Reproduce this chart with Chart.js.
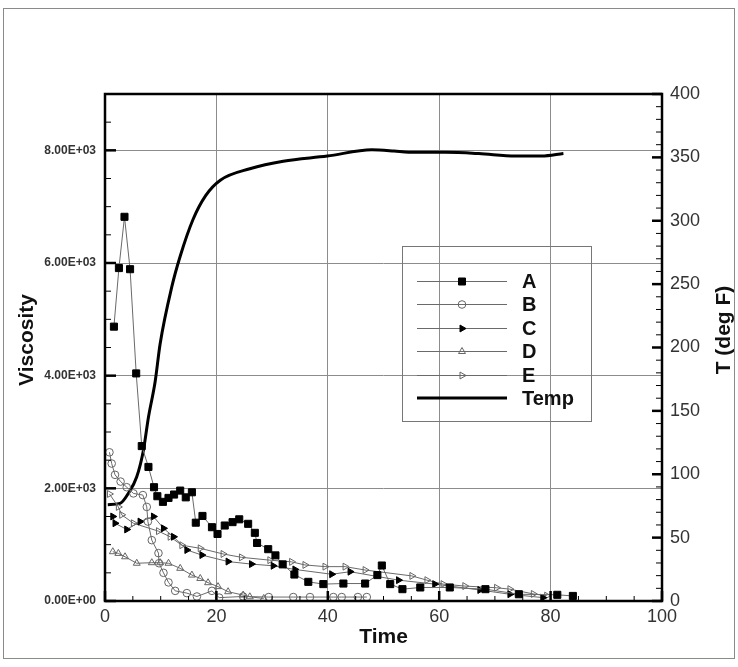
<!DOCTYPE html>
<html>
<head>
<meta charset="utf-8">
<script src="https://cdn.jsdelivr.net/npm/chart.js@4/dist/chart.umd.min.js"></script>
<style>
  html, body { margin: 0; padding: 0; background: #fff; }
  canvas { display: block; }
</style>
</head>
<body>
<canvas id="c" width="738" height="667"></canvas>
<script>
// ---------- data ----------
const seriesNames = ['A', 'B', 'C', 'D', 'E', 'Temp'];

const timeA = [1.6,2.5,3.5,4.5,5.6,6.6,7.8,8.8,9.4,10.4,11.4,12.4,13.5,14.5,15.6,16.3,17.5,19.2,20.2,21.5,22.9,24.1,25.7,26.9,27.3,29.3,30.6,31.9,34.0,36.5,39.2,42.8,46.7,48.9,49.7,51.2,53.4,56.6,61.9,68.3,74.3,81.2,84.0];
const viscA = [4870,5910,6820,5890,4040,2750,2380,2020,1860,1760,1830,1890,1960,1840,1930,1390,1510,1310,1190,1340,1400,1450,1370,1210,1030,920,810,650,470,340,300,310,310,460,630,300,210,240,240,210,120,110,90];

const timeB = [0.8,1.2,1.8,2.8,3.9,5.1,6.8,7.5,7.7,8.4,9.6,9.7,10.5,11.4,12.6,14.7,16.5,19.2,20.5,24.8,29.4,33.8,36.8,41.0,42.5,45.4,47.0];
const viscB = [2640,2440,2240,2120,2020,1910,1880,1670,1410,1080,850,670,500,330,180,140,80,180,60,80,70,70,70,70,70,70,70];

const timeC = [1.4,1.8,3.9,6.3,8.7,10.5,12.3,14.7,17.4,22.1,26.3,30.2,34.1,40.7,44.0,52.7,59.2,67.3,72.7,78.6];
const viscC = [1500,1380,1270,1410,1500,1290,1140,905,815,700,655,625,560,475,520,370,300,195,120,60];

const timeD = [1.4,2.4,3.6,5.7,8.4,9.9,11.4,13.5,15.6,17.1,18.5,20.3,22.1,24.8,26.0,28.5];
const viscD = [875,845,785,670,680,680,670,580,460,400,325,255,165,105,75,45];

const timeE = [0.8,2.4,3.0,5.1,9.6,11.7,13.8,17.1,21.2,24.5,29.6,33.5,35.9,39.5,43.1,46.7,55.1,57.8,60.7,64.6,70.3,72.7,76.9,79.3];
const viscE = [1900,1670,1530,1380,1240,1140,990,935,835,775,725,695,640,610,610,550,445,370,300,265,235,210,125,95];

const timeT = [0.5,2.7,4.2,5.7,6.9,7.8,9.0,9.9,12.0,13.5,15.8,18.1,20.7,26.0,32.0,39.9,47.9,51.9,54.5,61.1,67.1,73.7,78.4,82.3];
const tempT = [76,77,85,98,119,145,173,203,248,272,301,320,332,341,347,351,356,355,354,354,353,351,351,353];

const xTicks = [0,20,40,60,80,100];
const viscTicks = [0,2000,4000,6000,8000];
const tempTicks = [0,50,100,150,200,250,300,350,400];

// ---------- helpers ----------
const FONT = "'Liberation Sans', Arial, sans-serif";
function pts(xs, ys) { return xs.map((x, i) => ({ x: x, y: ys[i] })); }
function sci(v) {
  if (v === 0) return '0.00E+00';
  const e = Math.floor(Math.log10(Math.abs(v)));
  const m = (v / Math.pow(10, e)).toFixed(2);
  return m + 'E' + (e >= 0 ? '+' : '-') + String(Math.abs(e)).padStart(2, '0');
}

const LINE = '#6a6a6a';
const markerDefs = [
  { style: 'rect',     rot: 0,  r: 5,   fill: '#000', stroke: '#000' },
  { style: 'circle',   rot: 0,  r: 3.8, fill: 'rgba(255,255,255,0)', stroke: '#666' },
  { style: 'triangle', rot: 90, r: 4,   fill: '#000', stroke: '#000' },
  { style: 'triangle', rot: 0,  r: 4,   fill: 'rgba(255,255,255,0)', stroke: '#666' },
  { style: 'triangle', rot: 90, r: 4,   fill: 'rgba(255,255,255,0)', stroke: '#666' }
];
const seriesData = [pts(timeA, viscA), pts(timeB, viscB), pts(timeC, viscC), pts(timeD, viscD), pts(timeE, viscE)];

const datasets = seriesData.map((d, i) => ({
  label: seriesNames[i],
  data: d,
  yAxisID: 'y',
  showLine: true,
  borderColor: LINE,
  borderWidth: 1,
  pointStyle: markerDefs[i].style,
  rotation: markerDefs[i].rot,
  pointRadius: markerDefs[i].r,
  pointBackgroundColor: markerDefs[i].fill,
  pointBorderColor: markerDefs[i].stroke,
  pointBorderWidth: 1,
  tension: 0
}));
datasets.push({
  label: 'Temp',
  data: pts(timeT, tempT),
  yAxisID: 'y2',
  showLine: true,
  borderColor: '#000',
  borderWidth: 3,
  pointRadius: 0,
  cubicInterpolationMode: 'monotone'
});

// ---------- custom drawing: frame, inward ticks, titles, legend ----------
function drawMarker(ctx, def, x, y) {
  ctx.save();
  ctx.lineWidth = 1;
  ctx.fillStyle = def.fill;
  ctx.strokeStyle = def.stroke;
  ctx.beginPath();
  if (def.style === 'rect') {
    ctx.rect(x - 3.5, y - 3.5, 7, 7);
  } else if (def.style === 'circle') {
    ctx.arc(x, y, def.r, 0, Math.PI * 2);
  } else {
    const r = def.r;
    const a0 = (def.rot - 90) * Math.PI / 180;
    for (let k = 0; k < 3; k++) {
      const a = a0 + k * 2 * Math.PI / 3;
      const px = x + r * Math.cos(a), py = y + r * Math.sin(a);
      if (k === 0) ctx.moveTo(px, py); else ctx.lineTo(px, py);
    }
    ctx.closePath();
  }
  ctx.fill();
  ctx.stroke();
  ctx.restore();
}

const decor = {
  id: 'decor',
  beforeDraw(chart) {
    const ctx = chart.ctx;
    ctx.save();
    ctx.fillStyle = '#fff';
    ctx.fillRect(0, 0, chart.width, chart.height);
    ctx.restore();
  },
  afterDraw(chart) {
    const ctx = chart.ctx;
    const a = chart.chartArea;
    const sx = chart.scales.x, sy = chart.scales.y, sy2 = chart.scales.y2;
    ctx.save();

    // outer border
    ctx.strokeStyle = '#8a8a8a';
    ctx.lineWidth = 1;
    ctx.strokeRect(3.5, 8.5, 731, 650);

    // inward ticks
    ctx.strokeStyle = '#000';
    function tick(x1, y1, x2, y2, w) {
      ctx.lineWidth = w; ctx.beginPath(); ctx.moveTo(x1, y1); ctx.lineTo(x2, y2); ctx.stroke();
    }
    for (let v = 0; v <= 100; v += 5) {
      const px = sx.getPixelForValue(v);
      const major = v % 20 === 0;
      tick(px, a.bottom, px, a.bottom - (major ? 10 : 5), major ? 2.5 : 1);
    }
    for (let v = 0; v <= 9000; v += 500) {
      const py = sy.getPixelForValue(v);
      const major = v % 2000 === 0;
      tick(a.left, py, a.left + (major ? 11 : 6), py, major ? 2.5 : 1);
    }
    for (let v = 0; v <= 400; v += 10) {
      const py = sy2.getPixelForValue(v);
      const major = v % 50 === 0;
      tick(a.right, py, a.right - (major ? 10 : 6), py, major ? 2.5 : 1);
    }

    // frame
    ctx.lineWidth = 2.5;
    ctx.strokeStyle = '#000';
    ctx.strokeRect(a.left, a.top, a.right - a.left, a.bottom - a.top);

    // axis titles
    ctx.fillStyle = '#111';
    ctx.font = 'bold 21px ' + FONT;
    ctx.textAlign = 'center';
    ctx.textBaseline = 'middle';
    ctx.fillText('Time', (a.left + a.right) / 2, 637);
    ctx.save();
    ctx.translate(27, 340);
    ctx.rotate(-Math.PI / 2);
    ctx.fillText('Viscosity', 0, 0);
    ctx.restore();
    ctx.save();
    ctx.translate(724, 330);
    ctx.rotate(-Math.PI / 2);
    ctx.fillText('T (deg F)', 0, 0);
    ctx.restore();

    // legend
    ctx.strokeStyle = '#777';
    ctx.lineWidth = 1;
    ctx.strokeRect(402.5, 246.5, 189, 175);
    const rows = [281, 304, 328, 351, 375, 398];
    ctx.font = 'bold 20px ' + FONT;
    ctx.textAlign = 'left';
    ctx.textBaseline = 'middle';
    rows.forEach((ry, i) => {
      ctx.beginPath();
      if (i < 5) {
        ctx.strokeStyle = LINE; ctx.lineWidth = 1;
        ctx.moveTo(417, ry + 0.5); ctx.lineTo(507, ry + 0.5);
        ctx.stroke();
        drawMarker(ctx, markerDefs[i], 462, ry + 0.5);
      } else {
        ctx.strokeStyle = '#000'; ctx.lineWidth = 3;
        ctx.moveTo(417, ry); ctx.lineTo(507, ry);
        ctx.stroke();
      }
      ctx.fillStyle = '#111';
      ctx.fillText(seriesNames[i], 522, ry + 1);
    });
    ctx.restore();
  }
};

new Chart(document.getElementById('c'), {
  type: 'scatter',
  data: { datasets: datasets },
  plugins: [decor],
  options: {
    responsive: false,
    animation: false,
    events: [],
    layout: { padding: { top: 94, right: 0, bottom: 0, left: 0 } },
    plugins: { legend: { display: false }, tooltip: { enabled: false }, title: { display: false } },
    scales: {
      x: {
        type: 'linear', min: 0, max: 100,
        afterBuildTicks(s) { s.ticks = xTicks.map(v => ({ value: v })); },
        ticks: { color: '#333', font: { family: FONT, size: 18 }, padding: 5, maxRotation: 0 },
        grid: { color: '#8c8c8c', lineWidth: 1, drawTicks: false },
        border: { display: false },
        afterFit(s) { s.height = 66; }
      },
      y: {
        type: 'linear', position: 'left', min: 0, max: 9000,
        afterBuildTicks(s) { s.ticks = viscTicks.map(v => ({ value: v })); },
        ticks: { color: '#333', font: { family: FONT, size: 12, weight: 'bold' }, padding: 9, callback: v => sci(v) },
        grid: { color: '#8c8c8c', lineWidth: 1, drawTicks: false },
        border: { display: false },
        afterFit(s) { s.width = 105; }
      },
      y2: {
        type: 'linear', position: 'right', min: 0, max: 400,
        afterBuildTicks(s) { s.ticks = tempTicks.map(v => ({ value: v })); },
        ticks: { color: '#333', font: { family: FONT, size: 18 }, padding: 8 },
        grid: { display: false, drawTicks: false },
        border: { display: false },
        afterFit(s) { s.width = 76; }
      }
    }
  }
});
</script>
</body>
</html>
